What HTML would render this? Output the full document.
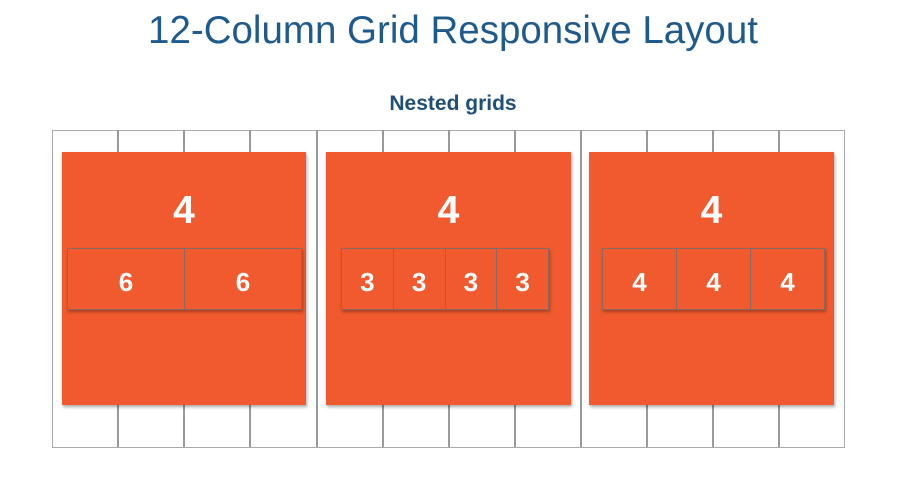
<!DOCTYPE html>
<html><head><style>
body{margin:0;width:906px;height:492px;background:#fff;position:relative;overflow:hidden;font-family:"Liberation Sans",sans-serif}
.t{position:absolute;left:0;width:906px;text-align:center;top:9px;font-size:38.5px;color:#1e5a8c}
.s{position:absolute;left:0;width:906px;text-align:center;top:92px;font-size:21px;font-weight:bold;color:#1f4e79}
.a{position:absolute}
.o{position:absolute;background:#f05a2e;box-shadow:1px 2px 3px rgba(0,0,0,.35)}
.n{position:absolute;background:#f05a2e;border:1px solid #8a6a60;box-shadow:1px 2px 3px rgba(0,0,0,.3);box-sizing:border-box;display:flex}
.n div{flex:1;border-right:1px solid #8a6a60;color:#fff;font-weight:bold;font-size:26px;display:flex;align-items:center;justify-content:center;padding-top:7px}
.n div:last-child{border-right:none}
.b{position:absolute;color:#fff;font-weight:bold;font-size:39px;text-align:center}
</style></head><body>
<div class="t">12-Column Grid Responsive Layout</div>
<div class="s">Nested grids</div>
<svg class="a" style="left:0;top:0" width="906" height="492">
<rect x="52.5" y="130.5" width="792" height="317" fill="#fff" stroke="#aaa"/>
<g stroke="#999" stroke-width="2">
<line x1="118" y1="130" x2="118" y2="447"/><line x1="184" y1="130" x2="184" y2="447"/><line x1="250" y1="130" x2="250" y2="447"/>
<line x1="317" y1="130" x2="317" y2="447"/>
<line x1="383" y1="130" x2="383" y2="447"/><line x1="449" y1="130" x2="449" y2="447"/><line x1="515" y1="130" x2="515" y2="447"/>
<line x1="581" y1="130" x2="581" y2="447"/>
<line x1="647" y1="130" x2="647" y2="447"/><line x1="713" y1="130" x2="713" y2="447"/><line x1="779" y1="130" x2="779" y2="447"/>
</g></svg>
<div class="o" style="left:62px;top:152px;width:244px;height:253px"></div>
<div class="o" style="left:326px;top:152px;width:245px;height:253px"></div>
<div class="o" style="left:589px;top:152px;width:245px;height:253px"></div>
<div class="b" style="left:62px;width:244px;top:189px">4</div>
<div class="b" style="left:326px;width:245px;top:189px">4</div>
<div class="b" style="left:589px;width:245px;top:189px">4</div>
<div class="n" style="left:67px;top:248px;width:235px;height:62px"><div>6</div><div>6</div></div>
<div class="n" style="left:341px;top:248px;width:208px;height:62px"><div>3</div><div>3</div><div>3</div><div>3</div></div>
<div class="n" style="left:602px;top:248px;width:223px;height:62px"><div>4</div><div>4</div><div>4</div></div>
</body></html>
